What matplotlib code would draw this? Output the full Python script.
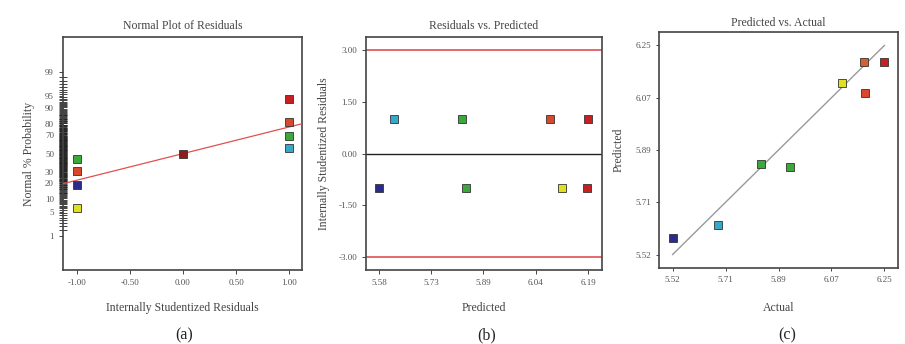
import math
import numpy as np
import matplotlib
matplotlib.use("Agg")
import matplotlib.pyplot as plt

plt.rcParams['font.family'] = ['Liberation Serif', 'DejaVu Serif']

# (a) normal plot of residuals
res_a = [-1.0, -1.0, -1.0, -1.0, 0.0, 1.0, 1.0, 1.0, 1.0]
prob_a = [43.6, 31.5, 19.0, 6.0, 50.0, 94.0, 81.8, 69.0, 56.8]
col_a = ['#3aa83a', '#d9482a', '#2b2b8c', '#e0e020', '#8c1c1c',
         '#c82020', '#d9482a', '#3aa83a', '#35a8cc']
prob_ticks = [1, 5, 10, 20, 30, 50, 70, 80, 90, 95, 99]
line_slope = 0.755

# (b) residuals vs predicted
pred_b = [5.58, 5.624, 5.823, 5.834, 6.080, 6.114, 6.19, 6.187]
res_b = [-1.0, 1.0, 1.0, -1.0, 1.0, -1.0, 1.0, -1.0]
col_b = ['#2b2b8c', '#35a8cc', '#3aa83a', '#3aa83a', '#d9482a', '#e0e020', '#c82020', '#c82020']
xt_b = [5.58, 5.7325, 5.885, 6.0375, 6.19]
xl_b = ['5.58', '5.73', '5.89', '6.04', '6.19']

# (c) predicted vs actual
act_c = [5.52, 5.678, 5.823, 5.925, 6.105, 6.18, 6.184, 6.25]
pred_c = [5.579, 5.623, 5.837, 5.826, 6.119, 6.193, 6.084, 6.193]
col_c = ['#2b2b8c', '#35a8cc', '#3aa83a', '#3aa83a', '#e0e020', '#d9602a', '#d9482a', '#c82020']
t_c = [5.52, 5.7025, 5.885, 6.0675, 6.25]
tl_c = ['5.52', '5.71', '5.89', '6.07', '6.25']

_erf = np.vectorize(math.erf)


def cdf(z):
    return 100 * 0.5 * (1 + _erf(np.asarray(z, float) / math.sqrt(2)))


def ppf(p):
    p = np.clip(np.asarray(p, float), 1e-9, 100 - 1e-9)
    lo = np.full(p.shape, -10.0)
    hi = np.full(p.shape, 10.0)
    for _ in range(60):
        mid = (lo + hi) / 2
        c = cdf(mid)
        lo = np.where(c < p, mid, lo)
        hi = np.where(c < p, hi, mid)
    return (lo + hi) / 2


fig = plt.figure(figsize=(9.05, 3.44), dpi=100)
tc = '#555555'
sc = '#444444'
lc = '#444444'
mk = dict(marker='s', ms=5.3, mec='#333333', mew=0.6, ls='none', zorder=5)


def style(ax):
    for s in ax.spines.values():
        s.set_color(sc)
        s.set_linewidth(1.2)
    ax.tick_params(labelsize=6.5, colors=sc, labelcolor=tc, length=3, width=0.7)


# ---- (a)
ax1 = fig.add_axes([0.0696, 0.215, 0.264, 0.677])
ax1.set_yscale('function', functions=(ppf, cdf))
xs = np.array([-1.13, 1.12])
ax1.plot(xs, cdf(line_slope * xs), color='#e05050', lw=0.9, zorder=3)
for x, p, c in zip(res_a, prob_a, col_a):
    ax1.plot(x, p, mfc=c, **mk)
ax1.set_xlim(-1.13, 1.12)
ax1.set_ylim(cdf(-3.3), cdf(3.3))
ax1.set_yticks(prob_ticks)
ax1.set_yticklabels([str(t) for t in prob_ticks])
minors = [m for m in np.arange(1.5, 99, 0.5) if m not in prob_ticks]
ax1.set_yticks(minors, minor=True)
ax1.set_yticklabels([], minor=True)
ax1.tick_params(axis='y', which='minor', direction='inout', length=6, width=0.6, colors='#222222')
ax1.set_xticks([-1.0, -0.5, 0.0, 0.5, 1.0])
ax1.set_xticklabels(['-1.00', '-0.50', '0.00', '0.50', '1.00'])
style(ax1)
ax1.set_title('Normal Plot of Residuals', fontsize=8.5, color=lc, pad=6)
ax1.set_xlabel('Internally Studentized Residuals', fontsize=8.5, color=lc, labelpad=11)
ax1.set_ylabel('Normal % Probability', fontsize=8.5, color=lc, labelpad=7)

# ---- (b)
ax2 = fig.add_axes([0.4044, 0.215, 0.2608, 0.677])
ax2.axhline(3.0, color='#e05050', lw=1.2)
ax2.axhline(-3.0, color='#e05050', lw=1.2)
ax2.axhline(0.0, color='#222222', lw=1.0)
for x, r, c in zip(pred_b, res_b, col_b):
    ax2.plot(x, r, mfc=c, **mk)
ax2.set_xlim(5.542, 6.231)
ax2.set_ylim(-3.38, 3.38)
ax2.set_xticks(xt_b)
ax2.set_xticklabels(xl_b)
ax2.set_yticks([-3.0, -1.5, 0.0, 1.5, 3.0])
ax2.set_yticklabels(['-3.00', '-1.50', '0.00', '1.50', '3.00'])
style(ax2)
ax2.set_title('Residuals vs. Predicted', fontsize=8.5, color=lc, pad=6)
ax2.set_xlabel('Predicted', fontsize=8.5, color=lc, labelpad=11)
ax2.set_ylabel('Internally Studentized Residuals', fontsize=8.5, color=lc, labelpad=6)

# ---- (c)
ax3 = fig.add_axes([0.7282, 0.221, 0.2641, 0.686])
ax3.plot([t_c[0], t_c[-1]], [t_c[0], t_c[-1]], color='#999999', lw=1.0, zorder=3)
for a, p, c in zip(act_c, pred_c, col_c):
    ax3.plot(a, p, mfc=c, **mk)
ax3.set_xlim(5.473, 6.297)
ax3.set_ylim(5.473, 6.297)
ax3.set_xticks(t_c)
ax3.set_xticklabels(tl_c)
ax3.set_yticks(t_c)
ax3.set_yticklabels(tl_c)
style(ax3)
ax3.tick_params(length=2)
ax3.set_title('Predicted vs. Actual', fontsize=8.5, color=lc, pad=4)
ax3.set_xlabel('Actual', fontsize=8.5, color=lc, labelpad=13)
ax3.set_ylabel('Predicted', fontsize=8.5, color=lc, labelpad=8)

for x, s in [(0.203, '(a)'), (0.538, '(b)'), (0.870, '(c)')]:
    fig.text(x, 0.025, s, ha='center', va='center', fontsize=11.5, color='#222222')

fig.savefig('out.png', dpi=100, facecolor='white')
